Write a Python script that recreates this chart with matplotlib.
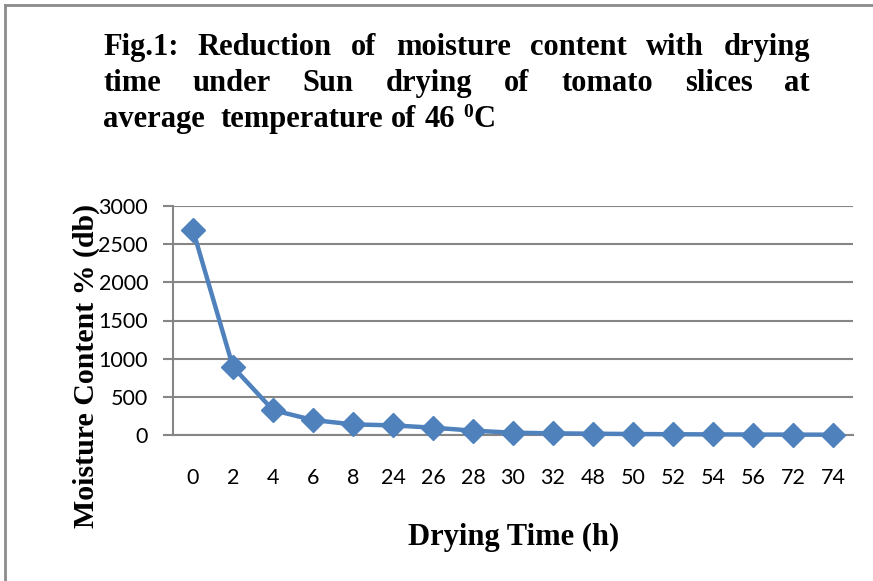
"""Moisture content of tomato slices during sun drying."""
import matplotlib
matplotlib.use('Agg')
import matplotlib.pyplot as plt
from matplotlib.lines import Line2D

drying_time = ['0', '2', '4', '6', '8', '24', '26', '28', '30', '32',
               '48', '50', '52', '54', '56', '72', '74']
moisture = [2683, 891, 326, 196, 139, 126, 96, 57, 30, 22,
            17, 13, 10, 8, 6, 5, 4]
y_ticks = [0, 500, 1000, 1500, 2000, 2500, 3000]

title_lines = [
    'Fig.1: Reduction of moisture content with drying',
    'time under Sun drying of tomato slices at',
]
title_last = ['average', '', 'temperature', 'of', '46']

BLUE = '#4F81BD'
GRID = '#868686'
SERIF = 'Liberation Serif'
SANS = 'Lato'

fig = plt.figure(figsize=(8.73, 5.81), dpi=100)
W, H = 873, 581
ax = fig.add_axes([173 / W, 1 - 435 / H, (853 - 173) / W, (435 - 206) / H])

x = range(len(drying_time))
ax.plot(x, moisture, color=BLUE, lw=3.2, marker='D', ms=12.5,
        markeredgecolor=BLUE, zorder=3, clip_on=False)

ax.set_xlim(-0.5, len(drying_time) - 0.5)
ax.set_ylim(0, 3000)
ax.set_yticks(y_ticks)
ax.set_xticks(list(x))
ax.set_xticklabels(drying_time)
ax.yaxis.grid(True, color=GRID, lw=1.5)
ax.set_axisbelow(True)
for side in ['top', 'right']:
    ax.spines[side].set_visible(False)
for side in ['left', 'bottom']:
    ax.spines[side].set_color(GRID)
    ax.spines[side].set_linewidth(1.5)
ax.tick_params(axis='y', length=7, width=1.5, color=GRID, pad=11,
               labelsize=15.5)
ax.tick_params(axis='x', length=0, pad=24, labelsize=15.5)
for lab in ax.get_xticklabels() + ax.get_yticklabels():
    lab.set_family(SANS)

fig.text(86 / W, 1 - 366 / H, 'Moisture Content % (db)', rotation=90,
         ha='center', va='center', family=SERIF, weight='bold',
         fontsize=21.5)
fig.text(514 / W, 1 - 545 / H, 'Drying Time (h)', ha='center',
         va='baseline', family=SERIF, weight='bold', fontsize=22)

# justified title, word by word
fig.canvas.draw()
renderer = fig.canvas.get_renderer()
left, right = 103, 810
TSIZE = 22


def title_word(s, px, base, size=TSIZE):
    t = fig.text(px / W, 1 - base / H, s, family=SERIF, weight='bold',
                 fontsize=size, va='baseline', ha='left')
    return t, t.get_window_extent(renderer).width


for line, base in zip(title_lines, [55, 91]):
    words = [title_word(w, 0, base) for w in line.split()]
    gap = (right - left - sum(w for _, w in words)) / (len(words) - 1)
    pos = left
    for t, w in words:
        t.set_x(pos / W)
        pos += w + gap

pos = left
for w in title_last:
    if not w:
        pos += 8
        continue
    t, wd = title_word(w, pos, 127)
    pos += wd + 8
sup, wd = title_word('0', pos, 117, size=14)
title_word('C', pos + wd + 1, 127)

# outer frame (top and left edges visible)
fig.add_artist(Line2D([5 / W, 5 / W], [0, 1 - 5 / H], color='#8c8c8c',
                      lw=2, transform=fig.transFigure))
fig.add_artist(Line2D([5 / W, 1], [1 - 5 / H, 1 - 5 / H], color='#8c8c8c',
                      lw=2, transform=fig.transFigure))

fig.savefig('out.png', dpi=100)
